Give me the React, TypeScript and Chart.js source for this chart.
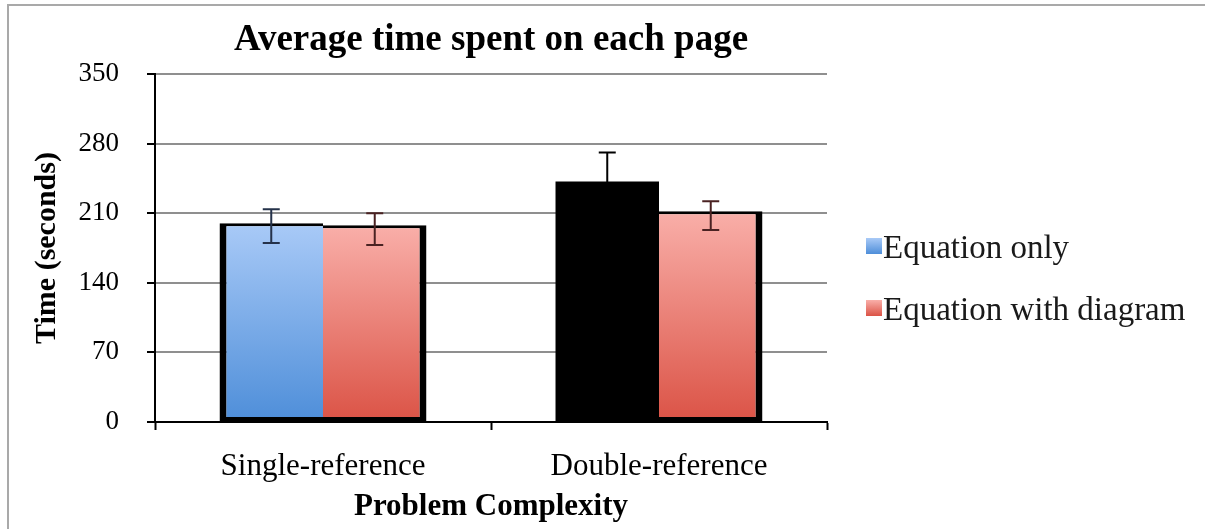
import { useEffect, useRef } from 'react';
import { Chart, registerables } from 'chart.js';

Chart.register(...registerables);

const categories = ['Single-reference', 'Double-reference'];
const seriesNames = ['Equation only', 'Equation with diagram'];
const equationOnly = [200, 242];
const equationWithDiagram = [198, 212];
const equationOnlyErrLow = [180, 213];
const equationOnlyErrHigh = [214, 271];
const equationWithDiagramErrLow = [178, 193];
const equationWithDiagramErrHigh = [210, 222];
const yTickValues = [0, 70, 140, 210, 280, 350];
const chartTitle = 'Average time spent on each page';
const yTitle = 'Time (seconds)';
const xTitle = 'Problem Complexity';

const FONT = "'Liberation Serif', 'Times New Roman', serif";
const BLUE_TOP = '#a9caf7';
const BLUE_BOTTOM = '#4e8ed9';
const RED_TOP = '#f9afa9';
const RED_BOTTOM = '#db5346';

function makeGradient(ctx: CanvasRenderingContext2D, top: number, bottom: number, c1: string, c2: string) {
  const g = ctx.createLinearGradient(0, top, 0, bottom);
  g.addColorStop(0, c1);
  g.addColorStop(1, c2);
  return g;
}

function barFill(c1: string, c2: string, solidIndex?: number, solidColor?: string) {
  return (c: any) => {
    if (solidIndex !== undefined && c.dataIndex === solidIndex) return solidColor;
    const chart = c.chart;
    const area = chart.chartArea;
    const ys = chart.scales && chart.scales.y;
    if (!area || !ys || typeof c.raw !== 'number') return c1;
    const top = ys.getPixelForValue(c.raw);
    return makeGradient(chart.ctx, top, area.bottom, c1, c2);
  };
}

const framePlugin = {
  id: 'frame',
  beforeDraw(chart: any) {
    const { ctx, width, height } = chart;
    ctx.save();
    ctx.fillStyle = '#ffffff';
    ctx.fillRect(0, 0, width, height);
    ctx.fillStyle = '#a9a9a9';
    ctx.fillRect(7, 4, width - 7, 2);
    ctx.fillRect(7, 4, 2, height - 4);
    ctx.restore();
  },
};

const errorBarPlugin = {
  id: 'errorBars',
  afterDatasetsDraw(chart: any) {
    const { ctx } = chart;
    const ys = chart.scales.y;
    const lows = [equationOnlyErrLow, equationWithDiagramErrLow];
    const highs = [equationOnlyErrHigh, equationWithDiagramErrHigh];
    const colors = [
      ['#25324a', '#000000'],
      ['#4a2222', '#4a2222'],
    ];
    chart.data.datasets.forEach((_ds: any, di: number) => {
      const meta = chart.getDatasetMeta(di);
      meta.data.forEach((bar: any, i: number) => {
        const x = bar.x;
        const yl = ys.getPixelForValue(lows[di][i]);
        const yh = ys.getPixelForValue(highs[di][i]);
        const cap = 8.5;
        ctx.save();
        ctx.strokeStyle = colors[di][i];
        ctx.lineWidth = 2;
        ctx.beginPath();
        ctx.moveTo(x, yl);
        ctx.lineTo(x, yh);
        ctx.moveTo(x - cap, yh);
        ctx.lineTo(x + cap, yh);
        ctx.moveTo(x - cap, yl);
        ctx.lineTo(x + cap, yl);
        ctx.stroke();
        ctx.restore();
      });
    });
  },
};

const legendPlugin = {
  id: 'customLegend',
  afterDraw(chart: any) {
    const { ctx, chartArea } = chart;
    const x0 = chartArea.right + 39;
    const firstTop = 238;
    const step = 62;
    const sq = 16;
    const fills = [
      [BLUE_TOP, BLUE_BOTTOM],
      [RED_TOP, RED_BOTTOM],
    ];
    ctx.save();
    seriesNames.forEach((name, i) => {
      const top = firstTop + i * step;
      ctx.fillStyle = makeGradient(ctx, top, top + sq, fills[i][0], fills[i][1]);
      ctx.fillRect(x0, top, sq, sq);
      ctx.fillStyle = '#1a1a1a';
      ctx.font = `33px ${FONT}`;
      ctx.textAlign = 'left';
      ctx.textBaseline = 'alphabetic';
      ctx.fillText(name, x0 + 17, top + 20);
    });
    ctx.restore();
  },
};

export default function App() {
  const canvasRef = useRef<HTMLCanvasElement | null>(null);

  useEffect(() => {
    const canvas = canvasRef.current;
    if (!canvas) return;
    const chart = new Chart(canvas, {
      type: 'bar',
      data: {
        labels: categories,
        datasets: [
          {
            label: seriesNames[0],
            data: equationOnly,
            backgroundColor: barFill(BLUE_TOP, BLUE_BOTTOM, 1, '#000000') as any,
            borderColor: '#000000',
            borderWidth: ((c: any) =>
              c.dataIndex === 1 ? 0 : { top: 3, left: 7, right: 0, bottom: 4 }) as any,
            borderSkipped: false,
            categoryPercentage: 0.616,
            barPercentage: 1,
          },
          {
            label: seriesNames[1],
            data: equationWithDiagram,
            backgroundColor: barFill(RED_TOP, RED_BOTTOM) as any,
            borderColor: '#000000',
            borderWidth: { top: 3, left: 0, right: 7, bottom: 4 } as any,
            borderSkipped: false,
            categoryPercentage: 0.616,
            barPercentage: 1,
          },
        ],
      },
      options: {
        animation: false,
        responsive: false,
        devicePixelRatio: 1,
        layout: { padding: { top: 0, left: 0, right: 378, bottom: 0 } },
        plugins: {
          legend: { display: false },
          tooltip: { enabled: false },
          title: {
            display: true,
            text: chartTitle,
            fullSize: false,
            color: '#000000',
            font: { family: FONT, size: 37, weight: 'bold', lineHeight: 1.2 },
            padding: { top: 18, bottom: 11.6 },
          },
        },
        scales: {
          x: {
            offset: true,
            grid: {
              display: true,
              offset: true,
              drawOnChartArea: false,
              drawTicks: true,
              tickLength: 8,
              tickColor: '#000000',
              tickWidth: 2,
              color: '#000000',
            },
            border: { display: true, color: '#000000', width: 2 },
            ticks: {
              color: '#000000',
              font: { family: FONT, size: 31, lineHeight: 1.2 },
              padding: 18,
              maxRotation: 0,
            },
            title: {
              display: true,
              text: xTitle,
              color: '#000000',
              font: { family: FONT, size: 31, weight: 'bold', lineHeight: 1.2 },
              padding: { top: 0, bottom: 3 },
            },
            afterFit: (scale: any) => {
              scale.height = 107;
            },
          },
          y: {
            min: 0,
            max: 350,
            afterBuildTicks: (scale: any) => {
              scale.ticks = yTickValues.map((v) => ({ value: v }));
            },
            grid: {
              color: '#8f8f8f',
              lineWidth: 2,
              drawTicks: true,
              tickLength: 8,
              tickColor: '#000000',
              tickWidth: 2,
            },
            border: { display: true, color: '#000000', width: 2 },
            ticks: {
              color: '#000000',
              font: { family: FONT, size: 27, lineHeight: 1.2 },
              padding: 28,
            },
            title: {
              display: true,
              text: yTitle,
              color: '#000000',
              font: { family: FONT, size: 30, weight: 'bold', lineHeight: 1.2 },
              padding: { top: 29, bottom: 0 },
            },
            afterFit: (scale: any) => {
              scale.width = 155;
            },
          },
        },
      } as any,
      plugins: [framePlugin, errorBarPlugin, legendPlugin],
    });
    return () => {
      chart.destroy();
    };
  }, []);

  return (
    <div style={{ position: 'absolute', left: 0, top: 0, width: 1205, height: 529 }}>
      <canvas ref={canvasRef} width={1205} height={529} />
    </div>
  );
}
